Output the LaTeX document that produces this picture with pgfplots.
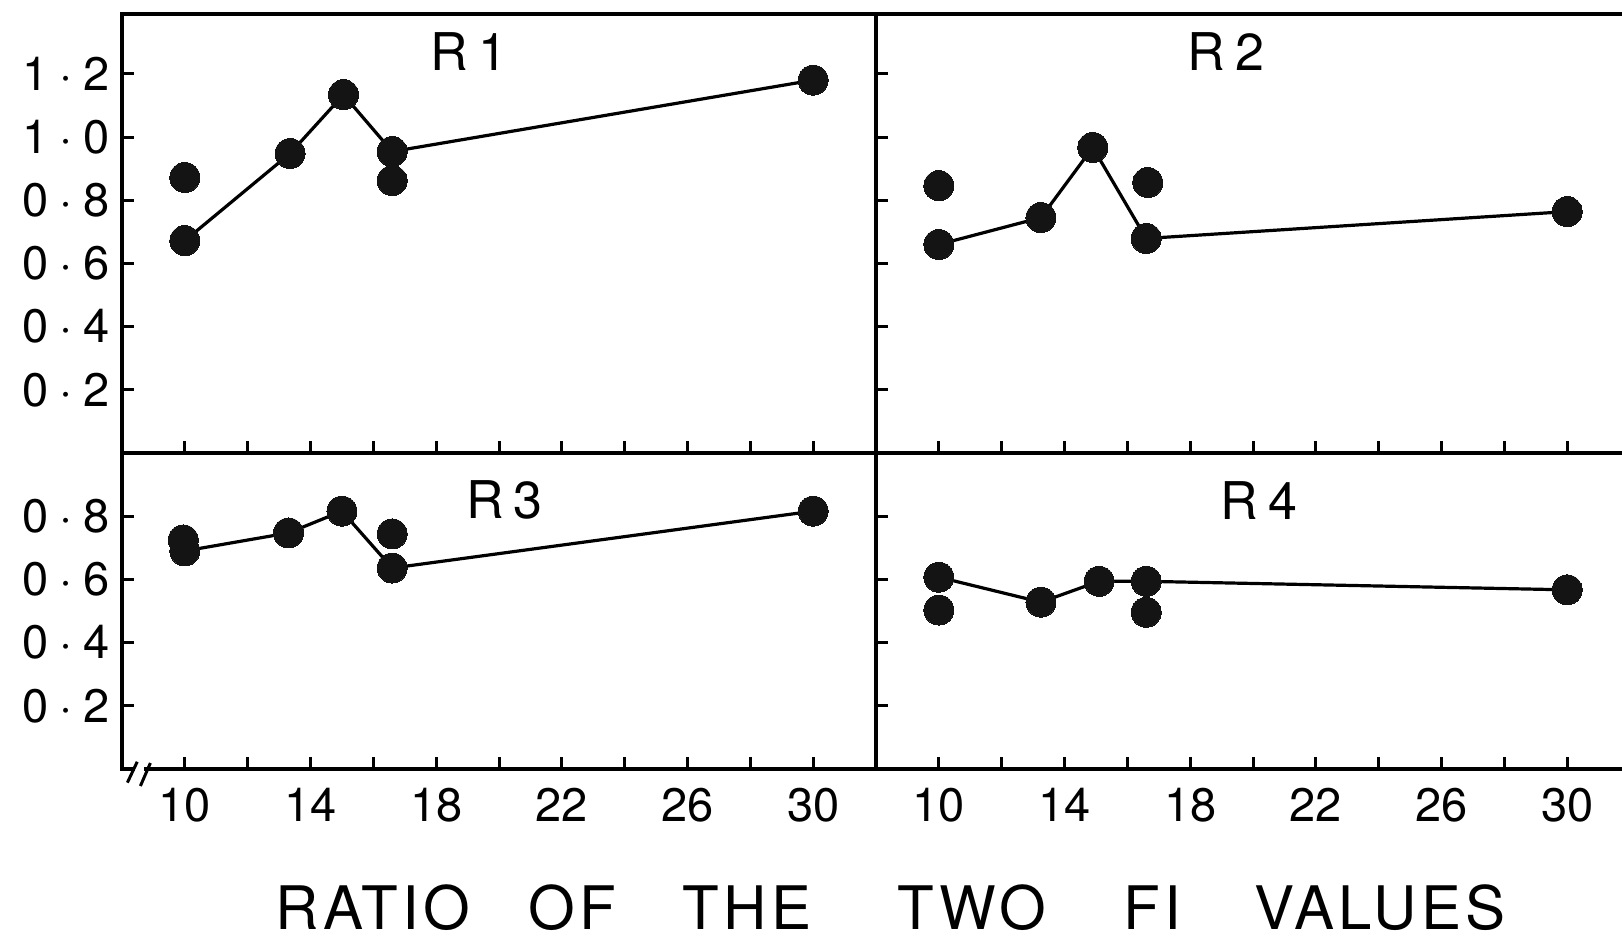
\documentclass[border=0pt]{standalone}
\usepackage{pgfplots}
\pgfplotsset{compat=1.18}
\usepackage{fontspec}
\setmainfont{TeX Gyre Heros}
\newfontfamily\spaced[LetterSpace=7]{TeX Gyre Heros}
\newcommand{\yl}[2]{#1\hspace{5.5pt}·\hspace{5.5pt}#2}
\tikzset{lab/.style={font=\fontsize{26}{26}\selectfont},
  xl/.style={anchor=base, inner sep=0pt, font=\spaced\fontsize{30}{30}\selectfont}}
\begin{document}
\begin{tikzpicture}
\useasboundingbox (0,0) rectangle (811pt,469.5pt);
\pgfplotsset{
  panel/.style={
    scale only axis, width=377pt, xmin=8, xmax=32, ymin=0,
    axis line style={line width=2pt, black},
    xtick={10,12,...,30}, xtick pos=bottom, ytick pos=left, tick align=inside,
    major tick length=6pt, tick style={line width=1.5pt, black},
    ticklabel style={font=\fontsize{23.5}{23.5}\selectfont},
    yticklabel style={anchor=east, inner sep=0pt, xshift=-6pt},
    xticklabel style={anchor=north, inner sep=0pt, yshift=-9.5pt},
    clip=false,
  },
  toppanel/.style={panel, height=219.6pt, ymax=1.39, ytick={0.2,0.4,...,1.2}, xticklabels={}},
  botpanel/.style={panel, height=158pt, ymax=1.0, ytick={0.2,0.4,0.6,0.8},
    xticklabels={10,,14,,18,,22,,26,,30}},
  ln/.style={black, line width=1.6pt, mark=*, mark size=7.5pt, mark options={fill=black!92, draw=black!92, line width=0pt}},
  iso/.style={only marks, mark=*, mark size=7.5pt, mark options={fill=black!92, draw=black!92, line width=0pt}},
}
% R1
\begin{axis}[toppanel, at={(61pt,243pt)}, anchor=south west,
  yticklabels={\yl02,\yl04,\yl06,\yl08,\yl10,\yl12}]
\addplot[ln] coordinates {(10,0.672) (13.35,0.948) (15.05,1.134) (16.6,0.954) (30,1.18)};
\addplot[iso] coordinates {(10,0.872) (16.6,0.862)};
\node[lab] at (rel axis cs:0.46,0.913) {R\hspace{5pt}1};
\end{axis}
% R2
\begin{axis}[toppanel, at={(438pt,243pt)}, anchor=south west, yticklabels={}]
\addplot[ln] coordinates {(10,0.66) (13.25,0.745) (14.9,0.967) (16.6,0.679) (30,0.764)};
\addplot[iso] coordinates {(10,0.846) (16.65,0.856)};
\node[lab] at (rel axis cs:0.464,0.913) {R\hspace{5pt}2};
\end{axis}
% R3
\begin{axis}[botpanel, at={(61pt,85pt)}, anchor=south west,
  yticklabels={\yl02,\yl04,\yl06,\yl08}]
\addplot[ln] coordinates {(10,0.69) (13.3,0.747) (15,0.816) (16.6,0.636) (30,0.816)};
\addplot[iso] coordinates {(9.95,0.725) (16.6,0.744)};
\node[lab] at (rel axis cs:0.507,0.851) {R\hspace{5pt}3};
\end{axis}
% R4
\begin{axis}[botpanel, at={(438pt,85pt)}, anchor=south west, yticklabels={}]
\addplot[ln] coordinates {(10,0.607) (13.25,0.528) (15.1,0.594) (16.6,0.594) (30,0.567)};
\addplot[iso] coordinates {(10,0.503) (16.6,0.496)};
\node[lab] at (rel axis cs:0.508,0.851) {R\hspace{5pt}4};
\end{axis}
% axis break marks
\fill[white] (67.3pt,83.7pt) rectangle (71.8pt,86.3pt);
\draw[line width=1.5pt] (63.7pt,78.2pt) -- (68.6pt,88.6pt);
\draw[line width=1.5pt] (70.2pt,76.5pt) -- (75.2pt,88pt);
% x label, word by word as spaced in the reference
\node[xl] at (186.5pt,5pt) {RATIO};
\node[xl] at (286pt,5pt) {OF};
\node[xl] at (373.5pt,5pt) {THE};
\node[xl] at (486pt,5pt) {TWO};
\node[xl] at (576pt,5pt) {FI};
\node[xl] at (690pt,5pt) {VALUES};
\end{tikzpicture}
\end{document}
